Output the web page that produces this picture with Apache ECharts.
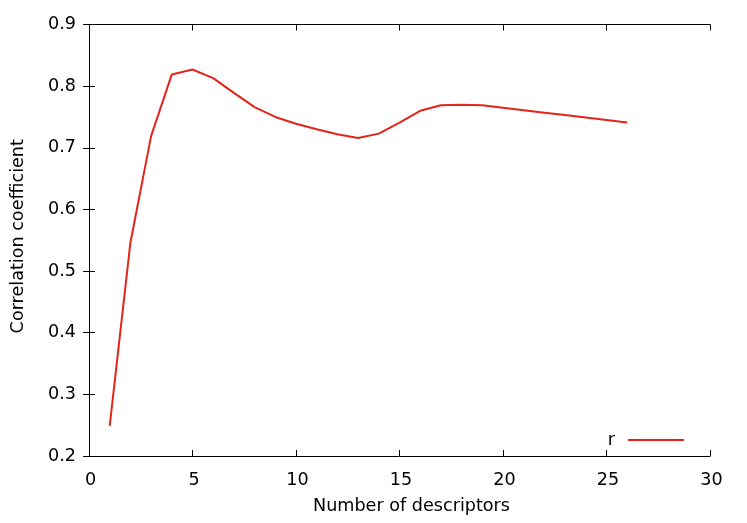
<!DOCTYPE html>
<html><head><meta charset="utf-8">
<script src="https://cdn.jsdelivr.net/npm/echarts@6/dist/echarts.min.js"></script>
<style>html,body{margin:0;padding:0;background:#fff}#c{width:747px;height:523px}</style>
</head><body><div id="c"></div>
<script>
const descriptors = [1,2,3,4,5,6,7,8,9,10,11,12,13,14,15,16,17,18,19,20,21,22,23,24,25,26];
const rValues = [0.249,0.546,0.719,0.819,0.827,0.813,0.789,0.766,0.750,0.739,0.730,0.722,0.716,0.723,0.741,0.760,0.769,0.770,0.769,0.765,0.761,0.757,0.753,0.749,0.745,0.741];
const xTicks = [0,5,10,15,20,25,30];
const yTicks = [0.2,0.3,0.4,0.5,0.6,0.7,0.8,0.9];
const seriesName = 'r';
const xName = 'Number of descriptors';
const yName = 'Correlation coefficient';

const font = 'DejaVu Sans, sans-serif';
const fs = 17.6;
const chart = echarts.init(document.getElementById('c'), null, {renderer:'canvas'});
const axLine = {show:true, lineStyle:{color:'#000', width:1}};
const tick = {show:true, inside:true, length:6, lineStyle:{color:'#000', width:1}};
chart.setOption({
  animation:false,
  backgroundColor:'#fff',
  grid:{left:89, right:37, top:24.5, bottom:67, containLabel:false},
  legend:{
    data:[seriesName], right:58, top:426, align:'right', itemWidth:56, itemHeight:12, itemGap:0,
    icon:'path://M0,5L56,5L56,7L0,7Z',
    textStyle:{fontFamily:font, fontSize:fs, color:'#000', padding:[0,8,0,0]}
  },
  xAxis:[{
    type:'value', min:xTicks[0], max:xTicks[xTicks.length-1], interval:5,
    name:xName, nameLocation:'middle', nameGap:41,
    nameTextStyle:{fontFamily:font, fontSize:fs, color:'#000', padding:[0,0,0,24]},
    axisLine:axLine, axisTick:tick, splitLine:{show:false},
    axisLabel:{fontFamily:font, fontSize:fs, color:'#000', margin:15, padding:[0,0,0,3]}
  },{
    type:'value', position:'top', min:xTicks[0], max:xTicks[xTicks.length-1], interval:5,
    axisLine:axLine, axisTick:tick, splitLine:{show:false}, axisLabel:{show:false}
  }],
  yAxis:[{
    type:'value', min:yTicks[0], max:yTicks[yTicks.length-1], interval:0.1,
    name:yName, nameLocation:'middle', nameGap:62, nameRotate:90,
    nameTextStyle:{fontFamily:font, fontSize:fs, color:'#000', padding:[0,0,0,8]},
    axisLine:axLine, axisTick:tick, splitLine:{show:false},
    axisLabel:{fontFamily:font, fontSize:fs, color:'#000', margin:13, formatter:v=>v.toFixed(1)}
  },{
    type:'value', position:'right', min:yTicks[0], max:yTicks[yTicks.length-1], interval:0.1,
    axisLine:axLine, axisTick:tick, splitLine:{show:false}, axisLabel:{show:false}
  }],
  series:[{
    name:seriesName, type:'line', data:descriptors.map((d,i)=>[d,rValues[i]]),
    showSymbol:false, symbol:'none', lineStyle:{color:'#e3241b', width:2}, itemStyle:{color:'#e3241b'}
  }]
});
</script></body></html>
